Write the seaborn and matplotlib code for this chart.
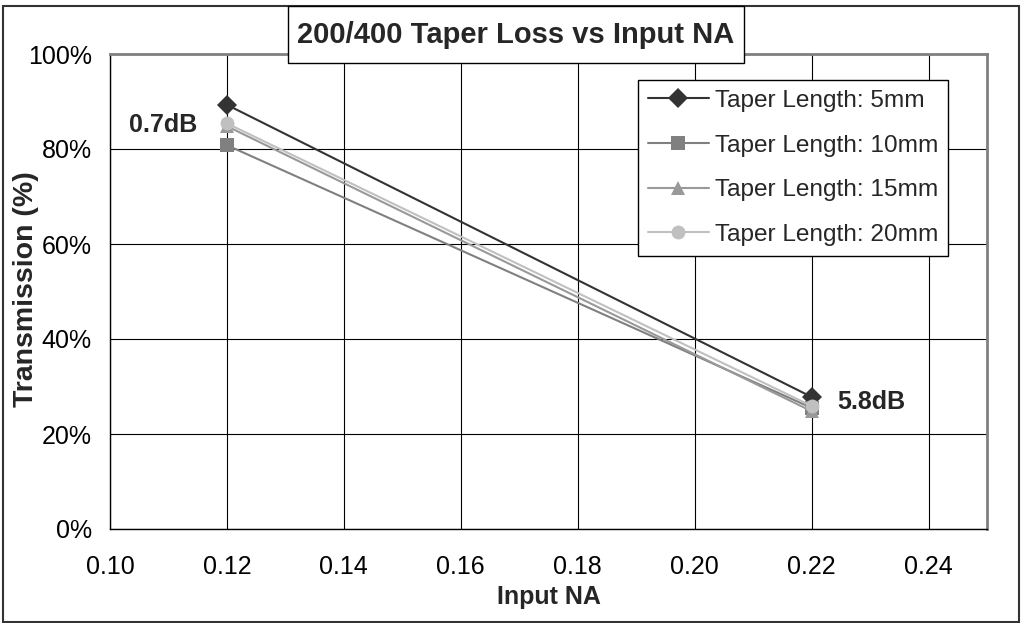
import matplotlib
matplotlib.use("Agg")
import matplotlib.pyplot as plt
from matplotlib.patches import Rectangle
from matplotlib.ticker import PercentFormatter, FormatStrFormatter
import seaborn as sns
import pandas as pd

# ---- data ----
input_na = [0.12, 0.22]
series_names = ["Taper Length: 5mm", "Taper Length: 10mm",
                "Taper Length: 15mm", "Taper Length: 20mm"]
t_5mm = [89.3, 27.8]
t_10mm = [80.8, 25.5]
t_15mm = [84.8, 24.8]
t_20mm = [85.4, 25.9]
x_ticks = [0.10, 0.12, 0.14, 0.16, 0.18, 0.20, 0.22, 0.24]
y_ticks = [0, 20, 40, 60, 80, 100]
title = "200/400 Taper Loss vs Input NA"
note_low = "0.7dB"
note_high = "5.8dB"

colors = ["#333333", "#808080", "#999999", "#c0c0c0"]
markers = ["D", "s", "^", "o"]

rows = []
for name, vals in zip(series_names, [t_5mm, t_10mm, t_15mm, t_20mm]):
    for xv, yv in zip(input_na, vals):
        rows.append({"NA": xv, "T": yv, "Series": name})
df = pd.DataFrame(rows)

sns.set_style("white")
plt.rcParams["font.family"] = ["Liberation Sans", "DejaVu Sans"]

W, H = 1021, 623
fig = plt.figure(figsize=(W / 100, H / 100), dpi=100)
ax = fig.add_axes([110 / W, 1 - 529 / H, (987 - 110) / W, (529 - 54) / H])

sns.lineplot(data=df, x="NA", y="T", hue="Series", style="Series",
             hue_order=series_names, style_order=series_names,
             palette=colors, markers=markers, dashes=False,
             markersize=10, markeredgewidth=0, linewidth=1.5, ax=ax,
             zorder=3)

ax.set_xlim(0.10, 0.25)
ax.set_ylim(0, 100)
ax.set_xticks(x_ticks)
ax.set_yticks(y_ticks)
ax.xaxis.set_major_formatter(FormatStrFormatter("%.2f"))
ax.yaxis.set_major_formatter(PercentFormatter(100, decimals=0))
ax.grid(True, color="#000000", linewidth=0.8, zorder=0)
ax.set_axisbelow(True)
ax.tick_params(axis="both", which="major", direction="out", length=5,
               width=0.8, color="black", labelsize=18, labelcolor="black")
ax.tick_params(axis="x", pad=14)
ax.tick_params(axis="y", pad=8)
for side in ["left", "bottom"]:
    ax.spines[side].set_color("black")
    ax.spines[side].set_linewidth(1)
for side in ["top", "right"]:
    ax.spines[side].set_color("#808080")
    ax.spines[side].set_linewidth(2)

ax.set_xlabel("Input NA", fontsize=18, fontweight="bold")
ax.set_ylabel("Transmission (%)", fontsize=20.5, fontweight="bold")
ax.xaxis.set_label_coords(0.5, -0.118)
ax.yaxis.set_label_coords(-0.081, 0.505)

ax.text(0.1150, 85.0, note_low, ha="right", va="center",
        fontsize=18, fontweight="bold")
ax.text(0.2244, 26.7, note_high, ha="left", va="center",
        fontsize=18, fontweight="bold")

leg = ax.legend(loc="upper right", bbox_to_anchor=(0.9555, 0.945),
                fontsize=17.6, frameon=True, fancybox=False,
                edgecolor="black", framealpha=1, handlelength=2.5,
                handletextpad=0.25, labelspacing=0.92, borderpad=0.4,
                borderaxespad=0)
leg.get_frame().set_linewidth(1)

# outer chart border
fig.patches.append(Rectangle((3 / W, 1 - 622 / H), (1019 - 3) / W, (622 - 6) / H,
                             transform=fig.transFigure, fill=False,
                             edgecolor="#333333", linewidth=1.5, zorder=10))
# title box
fig.patches.append(Rectangle((288 / W, 1 - 63 / H), (744 - 288) / W, (63 - 6) / H,
                             transform=fig.transFigure, facecolor="white",
                             edgecolor="black", linewidth=1, zorder=10))
fig.text(516 / W, 1 - 35 / H, title, ha="center", va="center",
         fontsize=21, fontweight="bold", zorder=11)

fig.savefig("out.png", dpi=100)
